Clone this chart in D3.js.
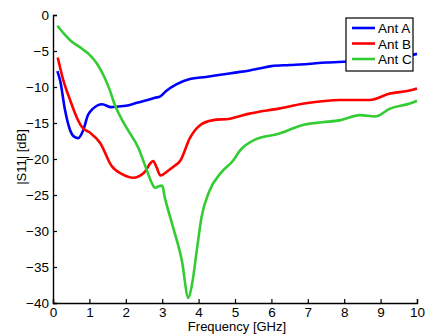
<!DOCTYPE html>
<html>
<head>
<meta charset="utf-8">
<script src="https://cdn.jsdelivr.net/npm/d3@7"></script>
<style>
  body { margin: 0; background: #fff; }
  svg text { font-family: "Liberation Sans", Arial, sans-serif; fill: #000; }
</style>
</head>
<body>
<svg id="chart" width="425" height="335"></svg>
<script>
const width = 425;
const height = 335;
const margin = { left: 53, right: 8, top: 15, bottom: 33 };

const xTicks = [0, 1, 2, 3, 4, 5, 6, 7, 8, 9, 10];
const yTicks = [0, -5, -10, -15, -20, -25, -30, -35, -40];
const seriesNames = ['Ant A', 'Ant B', 'Ant C'];
const seriesColors = ['#0000ff', '#ff0000', '#33cc33'];

// [GHz, dB]
const antA = [
  [0.12, -7.8], [0.2, -9.2], [0.33, -13.2], [0.47, -16], [0.58, -16.9], [0.69, -17.1],
  [0.83, -16], [0.96, -13.9], [1.1, -13], [1.35, -12.4], [1.6, -12.8], [1.8, -12.7],
  [2.0, -12.6], [2.3, -12.2], [2.6, -11.8], [2.8, -11.5], [2.95, -11.3], [3.1, -10.6],
  [3.4, -9.6], [3.76, -8.9], [4.2, -8.6], [4.6, -8.3], [5.0, -8.0], [5.4, -7.7],
  [5.7, -7.4], [6.0, -7.1], [6.5, -6.95], [7.0, -6.8], [7.5, -6.6], [8.0, -6.5],
  [8.5, -6.4], [9.0, -6.2], [9.5, -5.9], [10, -5.4]
];
const antB = [
  [0.13, -5.9], [0.28, -9], [0.47, -11.8], [0.65, -14.2], [0.8, -15.6], [1.0, -16.3],
  [1.3, -17.8], [1.6, -20.9], [1.9, -22.1], [2.2, -22.6], [2.5, -21.9], [2.75, -20.3],
  [2.85, -21.2], [2.95, -22.3], [3.17, -21.6], [3.3, -21.1], [3.5, -20.2], [3.76, -17.1],
  [4.04, -15.3], [4.4, -14.6], [4.86, -14.4], [5.4, -13.7], [6.2, -13], [6.9, -12.3],
  [7.9, -11.8], [8.7, -11.8], [9.26, -10.9], [9.8, -10.5], [10, -10.2]
];
const antC = [
  [0.12, -1.5], [0.3, -2.6], [0.47, -3.5], [0.8, -4.7], [1.0, -5.5], [1.2, -6.7],
  [1.4, -8.5], [1.55, -10.3], [1.7, -12.5], [1.9, -14.6], [2.06, -16], [2.34, -18.4],
  [2.58, -21.6], [2.72, -23.4], [2.8, -24], [2.9, -23.8], [3.0, -23.7], [3.07, -25.3],
  [3.3, -29.5], [3.54, -34.1], [3.72, -39.3], [3.82, -37.4], [3.95, -32.7], [4.08, -28.1],
  [4.3, -24.4], [4.6, -22], [4.95, -20.2], [5.14, -18.8], [5.55, -17.3], [6.2, -16.5],
  [6.92, -15.2], [7.4, -14.9], [7.9, -14.6], [8.43, -13.9], [8.85, -14.1], [9.26, -13],
  [9.8, -12.3], [10, -11.9]
];
const allSeries = [antA, antB, antC];

const svg = d3.select('#chart');

const x = d3.scaleLinear().domain([0, 10]).range([margin.left, width - margin.right]);
const y = d3.scaleLinear().domain([-40, 0]).range([height - margin.bottom + 1, margin.top]);

// curves
const line = d3.line()
  .x((d) => x(d[0]))
  .y((d) => y(d[1]))
  .curve(d3.curveMonotoneX);

allSeries.forEach((s, i) => {
  svg.append('path')
    .attr('d', line(s))
    .attr('fill', 'none')
    .attr('stroke', seriesColors[i])
    .attr('stroke-width', 2.6)
    .attr('stroke-linejoin', 'round');
});

// axes with inward ticks
const xAxis = d3.axisBottom(x).tickValues(xTicks).tickSize(-4).tickPadding(4);
const yAxis = d3.axisLeft(y).tickValues(yTicks).tickSize(-4).tickPadding(4);

const gx = svg.append('g')
  .attr('transform', `translate(0,${y(-40)})`)
  .call(xAxis);
const gy = svg.append('g')
  .attr('transform', `translate(${x(0)},0)`)
  .call(yAxis);

[gx, gy].forEach((g) => {
  g.select('.domain').attr('stroke', '#000').attr('stroke-width', 1.4);
  g.selectAll('.tick line').attr('stroke', '#000').attr('stroke-width', 1.2);
  g.selectAll('.tick text').style('font-size', '13.5px').attr('fill', '#000');
});

// axis labels
svg.append('text')
  .attr('x', 237)
  .attr('y', 331)
  .attr('text-anchor', 'middle')
  .style('font-size', '13px')
  .text('Frequency [GHz]');

svg.append('text')
  .attr('transform', 'translate(26,157) rotate(-90)')
  .attr('text-anchor', 'middle')
  .style('font-size', '13px')
  .text('|S11| [dB]');

// legend
const legend = svg.append('g').attr('transform', 'translate(346,18)');
legend.append('rect')
  .attr('width', 67)
  .attr('height', 53)
  .attr('fill', '#fff')
  .attr('stroke', '#000')
  .attr('stroke-width', 1.2);

seriesNames.forEach((name, i) => {
  const ly = 10 + i * 15.5;
  legend.append('line')
    .attr('x1', 6).attr('x2', 29)
    .attr('y1', ly).attr('y2', ly)
    .attr('stroke', seriesColors[i])
    .attr('stroke-width', 2.6);
  legend.append('text')
    .attr('x', 32)
    .attr('y', ly + 5)
    .style('font-size', '13.5px')
    .text(name);
});
</script>
</body>
</html>
